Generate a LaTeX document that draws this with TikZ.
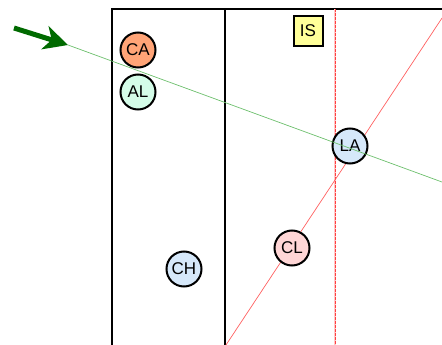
\documentclass[tikz,border=0pt]{standalone}
\usepackage{fontspec}
\setmainfont{Liberation Sans}
\usetikzlibrary{arrows.meta}
\definecolor{caorange}{HTML}{FFA477}
\definecolor{almint}{HTML}{D4FCE8}
\definecolor{lblue}{HTML}{D6E8FA}
\definecolor{lpink}{HTML}{FFD6D6}
\definecolor{lyellow}{HTML}{FFFF99}
\definecolor{dgreen}{HTML}{006A00}
\definecolor{lgreen}{HTML}{6CBF6C}
\definecolor{lred}{HTML}{FF6060}
\definecolor{dashred}{HTML}{FF4040}
\definecolor{dashpale}{HTML}{FFC8C8}
\newcommand{\nodefont}{\fontsize{17}{19}\selectfont}
\begin{document}
\begin{tikzpicture}[x=1pt,y=-1pt,
  circ/.style={circle, draw=black, line width=2pt, minimum size=35pt, inner sep=0pt,
    font=\nodefont, text=black},
  sq/.style={rectangle, draw=black, line width=2pt, minimum width=29pt, minimum height=30pt,
    inner sep=0pt, fill=lyellow, font=\nodefont, text=black},
  framestyle/.style={line width=2.2pt, black},
  redray/.style={draw=lred, line width=0.7pt},
  reddash/.style={preaction={draw=dashpale, line width=1.2pt, solid},
    color=dashred, line width=1pt, dash pattern=on 3pt off 1pt},
  greenray/.style={draw=lgreen, line width=0.7pt},
  bigarrow/.style={draw=dgreen, line width=5pt, -{Stealth[length=24pt,width=24pt,inset=7pt]}}]
\useasboundingbox (0,0) rectangle (442,345);
\clip (0,0) rectangle (442,345);
% coordinates
\coordinate (fbl) at (112,350);
\coordinate (ftl) at (112,9.3);
\coordinate (ftr) at (450,9.3);
\coordinate (vtop) at (225,9.3);
\coordinate (vbot) at (225,350);
\coordinate (dtop) at (335,9.3);
\coordinate (dbot) at (335,350);
\coordinate (rlo) at (226,345);
\coordinate (rhi) at (442,18);
\coordinate (tail) at (14,28);
\coordinate (tip) at (68,45);
\coordinate (gend) at (442,182);
% frame
\draw[framestyle] (fbl) -- (ftl) -- (ftr);
\draw[framestyle] (vtop) -- (vbot);
% red lines
\draw[reddash] (dtop) -- (dbot);
\draw[redray] (rlo) -- (rhi);
% nodes
\node[circ, fill=caorange] (CA) at (138,50) {CA};
\node[circ, fill=almint] (AL) at (138,92) {AL};
\node[circ, fill=lblue] (CH) at (184,269) {CH};
\node[circ, fill=lpink] (CL) at (292,248) {CL};
\node[circ, fill=lblue] (LA) at (350,146) {LA};
\node[sq] (IS) at (308,31) {IS};
% green ray
\draw[greenray] (tip) -- (gend);
\draw[bigarrow] (tail) -- (tip);
\end{tikzpicture}
\end{document}
